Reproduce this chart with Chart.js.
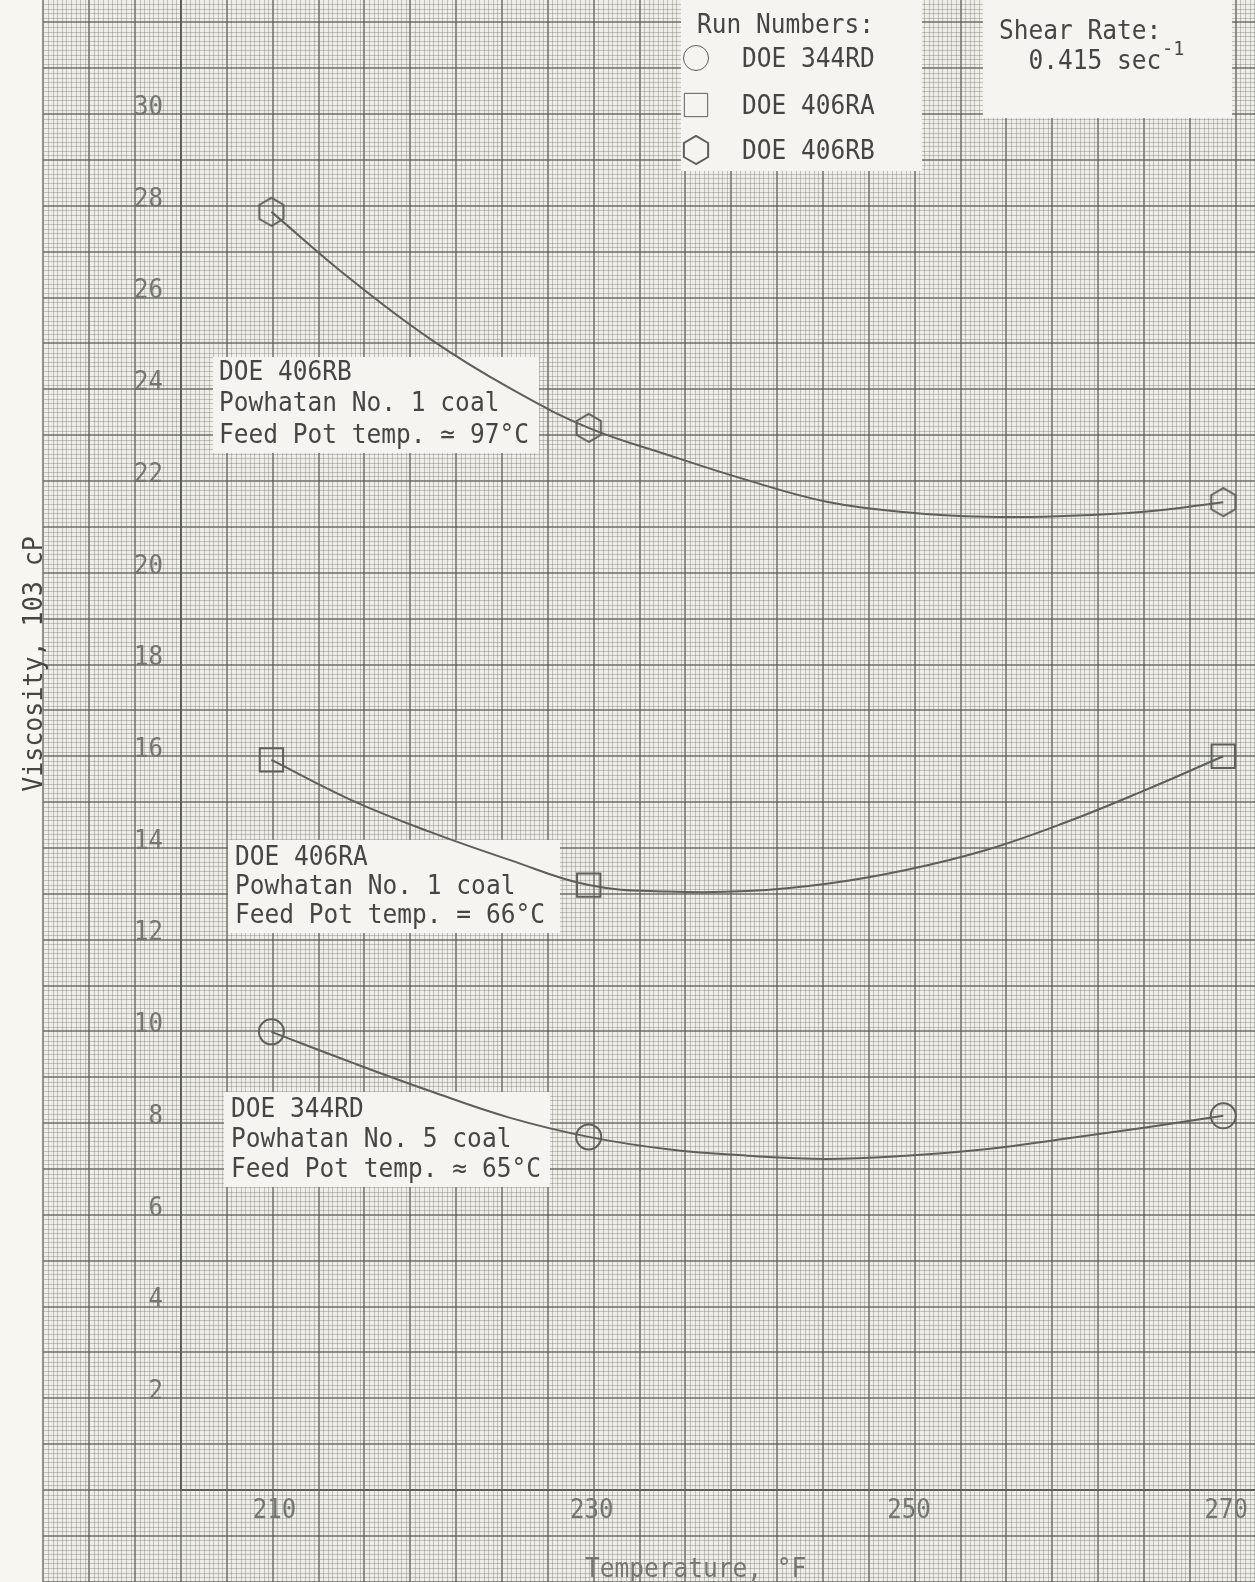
<!DOCTYPE html>
<html>
<head>
<meta charset="utf-8">
<script src="https://cdn.jsdelivr.net/npm/chart.js@4.4.1/dist/chart.umd.min.js"></script>
<style>
  html, body { margin: 0; padding: 0; background: #f6f5f0; }
  #wrap { width: 1255px; height: 1582px; }
</style>
</head>
<body>
<div id="wrap"><canvas id="viscosityChart" width="1255" height="1582"></canvas></div>
<script>
// Temperatures (°F) at which the hand-drawn curves were read
const CURVE_TEMPS = [210, 215, 220, 225, 230, 235, 240, 245, 250, 255, 260, 265, 270];
const CURVE_344RD = [9.99, 9.33, 8.70, 8.12, 7.70, 7.43, 7.29, 7.22, 7.29, 7.43, 7.66, 7.90, 8.16];
const CURVE_406RA = [15.92, 15.05, 14.35, 13.74, 13.19, 13.05, 13.06, 13.22, 13.52, 13.95, 14.55, 15.25, 16.0];
const CURVE_406RB = [27.87, 26.4, 25.1, 24.03, 23.16, 22.57, 22.02, 21.55, 21.32, 21.22, 21.24, 21.33, 21.54];

// Measured runs
const RUN_TEMPS = [210, 230, 270];
const RUN_344RD = [9.99, 7.70, 8.16];
const RUN_406RA = [15.92, 13.19, 16.0];
const RUN_406RB = [27.87, 23.16, 21.54];
const RUN_NAMES = ['DOE 344RD', 'DOE 406RA', 'DOE 406RB'];

const X_TICKS = [210, 230, 250, 270];
const Y_TICKS = [2, 4, 6, 8, 10, 12, 14, 16, 18, 20, 22, 24, 26, 28, 30];

const NOTE_406RB = ['DOE 406RB', 'Powhatan No. 1 coal', 'Feed Pot temp. \u2243 97\u00b0C'];
const NOTE_406RA = ['DOE 406RA', 'Powhatan No. 1 coal', 'Feed Pot temp. = 66\u00b0C'];
const NOTE_344RD = ['DOE 344RD', 'Powhatan No. 5 coal', 'Feed Pot temp. \u2248 65\u00b0C'];

const Style = {
  INK: '#5e5e5b',
  TEXT: '#454543',
  TICK_TEXT: '#757572',
  PAPER: '#efeee9',
  MARGIN: '#f7f6f1',
  BOX: '#f5f4f0',
  MINOR: 'rgba(105, 105, 100, 0.34)',
  MAJOR: 'rgba(85, 85, 80, 0.62)',
  FONT: '"DejaVu Sans Mono", monospace',
  SQUEEZE: 0.925, // typewriter letters are narrower than DejaVu
};

function makeHexagon(r, color) {
  const c = document.createElement('canvas');
  const s = Math.ceil(r * 2 + 4);
  c.width = s;
  c.height = s;
  const g = c.getContext('2d');
  g.strokeStyle = color;
  g.lineWidth = 2;
  g.beginPath();
  for (let i = 0; i < 6; i++) {
    const a = Math.PI / 2 + (i * Math.PI) / 3;
    const px = s / 2 + r * Math.cos(a);
    const py = s / 2 + r * Math.sin(a);
    if (i === 0) g.moveTo(px, py);
    else g.lineTo(px, py);
  }
  g.closePath();
  g.stroke();
  return c;
}

const hexagon = makeHexagon(14, Style.INK);

function toPoints(xs, ys) {
  return xs.map((x, i) => ({ x: x, y: ys[i] }));
}

function curveSet(label, values) {
  return {
    label: label,
    data: toPoints(CURVE_TEMPS, values),
    borderColor: Style.INK,
    borderWidth: 2,
    pointRadius: 0,
    tension: 0.4,
    fill: false,
    order: 2,
  };
}

function runSet(label, values, pointStyle, radius) {
  return {
    label: label,
    data: toPoints(RUN_TEMPS, values),
    showLine: false,
    pointStyle: pointStyle,
    pointRadius: radius,
    pointBorderColor: Style.INK,
    pointBorderWidth: 2,
    pointBackgroundColor: 'rgba(0,0,0,0)',
    clip: false,
    order: 1,
  };
}

// squeezed typewriter-like text
function typeText(ctx, text, x, y, size, color, align) {
  ctx.save();
  ctx.font = size + 'px ' + Style.FONT;
  ctx.fillStyle = color;
  ctx.textAlign = align || 'left';
  ctx.textBaseline = 'middle';
  ctx.translate(x, y);
  ctx.scale(Style.SQUEEZE, 1);
  ctx.fillText(text, 0, 0);
  ctx.restore();
}

// graph paper behind everything, spaced from the y scale (1 unit = 1 big square)
const paperPlugin = {
  id: 'paper',
  beforeDraw(chart) {
    const { ctx, chartArea, scales } = chart;
    const W = chart.width;
    const H = chart.height;
    const unit = scales.y.getPixelForValue(0) - scales.y.getPixelForValue(1);
    const step = unit / 10;
    const x0 = chartArea.left;
    const y0 = chartArea.bottom;
    const paperLeft = x0 - 3 * unit;

    ctx.save();
    ctx.fillStyle = Style.MARGIN;
    ctx.fillRect(0, 0, W, H);
    ctx.fillStyle = Style.PAPER;
    ctx.fillRect(paperLeft, 0, W - paperLeft, H);

    const line = (major, x1, y1, x2, y2) => {
      ctx.strokeStyle = major ? Style.MAJOR : Style.MINOR;
      ctx.lineWidth = major ? 2 : 1;
      ctx.beginPath();
      ctx.moveTo(x1, y1);
      ctx.lineTo(x2, y2);
      ctx.stroke();
    };

    for (let k = -30; x0 + k * step <= W + 1; k++) {
      const major = k % 10 === 0;
      let px = Math.round(x0 + k * step);
      if (!major) px += 0.5;
      line(major, px, 0, px, H);
    }
    const kTop = -Math.floor(y0 / step);
    const kBottom = Math.ceil((H - y0) / step);
    for (let k = kTop; k <= kBottom; k++) {
      const major = k % 10 === 0;
      let py = Math.round(y0 + k * step);
      if (!major) py += 0.5;
      line(major, paperLeft, py, W, py);
    }
    ctx.restore();
  },
};

// tick labels written on the paper, placed by the scales
const tickLabelPlugin = {
  id: 'tickLabels',
  beforeDatasetsDraw(chart) {
    const { ctx, chartArea, scales } = chart;
    scales.y.ticks.forEach((t) => {
      const py = scales.y.getPixelForValue(t.value);
      typeText(ctx, String(t.value), chartArea.left - 18, py - 6, 26, Style.TICK_TEXT, 'right');
    });
    scales.x.ticks.forEach((t) => {
      const px = scales.x.getPixelForValue(t.value);
      typeText(ctx, String(t.value), px + 3, chartArea.bottom + 21, 26, Style.TICK_TEXT, 'center');
    });
  },
};

// text boxes, legend box and axis titles
const notesPlugin = {
  id: 'notes',
  beforeDatasetsDraw(chart) {
    const { ctx } = chart;
    const size = 26.5;

    const box = (x, y, w, h) => {
      ctx.fillStyle = Style.BOX;
      ctx.fillRect(x, y, w, h);
    };
    const lines = (texts, x, y, gap) => {
      texts.forEach((t, i) => typeText(ctx, t, x, y + i * gap, size, Style.TEXT));
    };

    ctx.save();
    // curve notes
    box(213, 357, 326, 96);
    lines(NOTE_406RB, 219, 373, 31.5);
    box(228, 840, 332, 93);
    lines(NOTE_406RA, 235, 858, 29);
    box(224, 1092, 326, 95);
    lines(NOTE_344RD, 231, 1110, 30);

    // legend
    box(681, 0, 241, 171);
    lines(['Run Numbers:'], 697, 26, 0);
    const runSets = chart.data.datasets.filter((d) => d.showLine === false);
    const rowY = [58, 105, 150];
    runSets.forEach((ds, i) => {
      ctx.strokeStyle = Style.INK;
      ctx.fillStyle = 'rgba(0,0,0,0)';
      Chart.helpers.drawPoint(ctx, {
        pointStyle: ds.pointStyle,
        radius: ds.pointRadius,
        rotation: 0,
        borderWidth: 2,
      }, 696, rowY[i]);
      lines([ds.label], 742, rowY[i] + 2, 0);
    });

    // shear rate
    box(983, 0, 249, 118);
    lines(['Shear Rate:', '  0.415 sec'], 999, 32, 30);
    typeText(ctx, '-1', 1162, 50, 20, Style.TEXT);

    // axis titles
    ctx.save();
    ctx.translate(35, 664);
    ctx.rotate(-Math.PI / 2);
    typeText(ctx, 'Viscosity, 103 cP', 0, 0, 27, Style.TEXT, 'center');
    ctx.restore();
    typeText(ctx, 'Temperature, \u00b0F', 585, 1570, 26.5, Style.TICK_TEXT);
    ctx.restore();
  },
};

const chart = new Chart(document.getElementById('viscosityChart'), {
  type: 'line',
  data: {
    datasets: [
      curveSet('DOE 344RD curve', CURVE_344RD),
      curveSet('DOE 406RA curve', CURVE_406RA),
      curveSet('DOE 406RB curve', CURVE_406RB),
      runSet(RUN_NAMES[0], RUN_344RD, 'circle', 12.5),
      runSet(RUN_NAMES[1], RUN_406RA, 'rect', 16.5),
      runSet(RUN_NAMES[2], RUN_406RB, hexagon, 13),
    ],
  },
  options: {
    responsive: false,
    devicePixelRatio: 1,
    animation: false,
    layout: { padding: 0, autoPadding: false },
    plugins: {
      legend: { display: false },
      tooltip: { enabled: false },
    },
    scales: {
      x: {
        type: 'linear',
        min: 204.3,
        max: 272,
        grid: { display: false, drawTicks: false },
        border: { display: true, color: Style.INK, width: 2 },
        ticks: { display: false },
        afterBuildTicks: (scale) => {
          scale.ticks = X_TICKS.map((v) => ({ value: v }));
        },
        afterFit: (scale) => {
          scale.height = 92;
        },
      },
      y: {
        type: 'linear',
        min: 0,
        max: 32.49,
        grid: { display: false, drawTicks: false },
        border: { display: true, color: Style.INK, width: 2 },
        ticks: { display: false },
        afterBuildTicks: (scale) => {
          scale.ticks = Y_TICKS.map((v) => ({ value: v }));
        },
        afterFit: (scale) => {
          scale.width = 181;
        },
      },
    },
  },
  plugins: [paperPlugin, tickLabelPlugin, notesPlugin],
});
</script>
</body>
</html>
